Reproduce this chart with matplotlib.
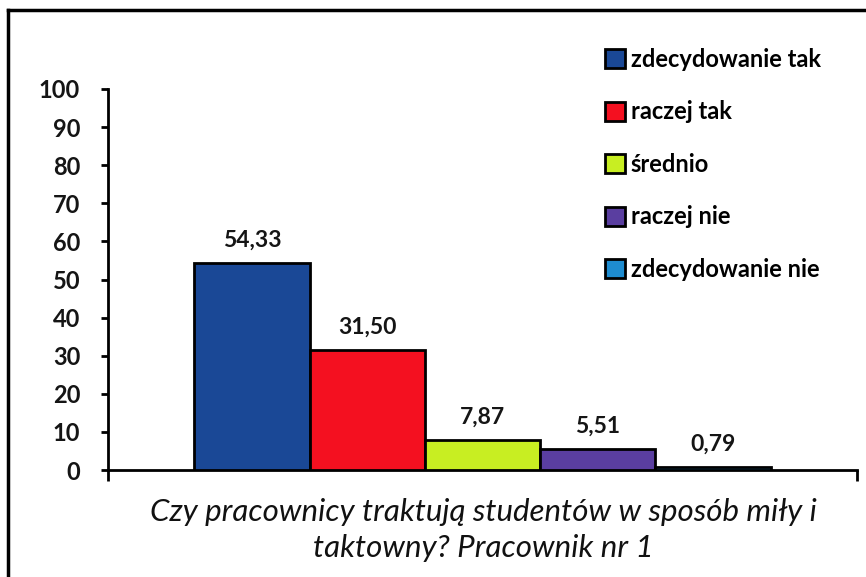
import matplotlib
matplotlib.use("Agg")
import matplotlib.pyplot as plt
from matplotlib.patches import Rectangle
from matplotlib.lines import Line2D

categories = ["zdecydowanie tak", "raczej tak", "średnio", "raczej nie", "zdecydowanie nie"]
values = [54.33, 31.50, 7.87, 5.51, 0.79]
labels = ["54,33", "31,50", "7,87", "5,51", "0,79"]
colors = ["#1A4896", "#F41020", "#C8EE22", "#5A3EA0", "#1E8CD0"]
yticks = [0, 10, 20, 30, 40, 50, 60, 70, 80, 90, 100]
title = "Czy pracownicy traktują studentów w sposób miły i\ntaktowny? Pracownik nr 1"

plt.rcParams['font.family'] = ['Lato', 'DejaVu Sans']

fig = plt.figure(figsize=(8.66, 5.77), dpi=100)
W, H = 866, 577
ax = fig.add_axes([108 / W, 1 - 470 / H, (857 - 108) / W, (470 - 89) / H])

x = list(range(len(values)))
bars = ax.bar(x, values, width=1.0, color=colors, edgecolor="black", linewidth=2, label=categories, zorder=3)
for xi, v, lab in zip(x, values, labels):
    ax.annotate(lab, (xi, v), xytext=(0, 12), textcoords="offset points",
                ha="center", va="baseline", fontsize=16.5, fontweight="bold", color="#151515")

ax.set_xlim(-1.25, 5.25)
ax.set_ylim(0, 100)
ax.set_yticks(yticks)
ax.set_yticklabels([str(t) for t in yticks], fontsize=17, fontweight="bold", color="#151515")
ax.tick_params(axis="y", direction="out", length=5, width=2, pad=15, colors="black")
for t in ax.get_yticklabels():
    t.set_color("#151515")
ax.set_xticks([-1.25, 5.25])
ax.set_xticklabels(["", ""])
ax.tick_params(axis="x", direction="out", length=8, width=2)
for s in ["top", "right"]:
    ax.spines[s].set_visible(False)
for s in ["left", "bottom"]:
    ax.spines[s].set_linewidth(2)

handles = [Rectangle((0, 0), 1, 1, facecolor=c, edgecolor="black", linewidth=2) for c in colors]
leg = fig.legend(handles, categories, loc="upper left", bbox_to_anchor=(586 / W, 1 - 29 / H),
                 frameon=False, prop={"weight": "bold", "size": 17},
                 handlelength=0.85, handleheight=0.85, handletextpad=0.25, labelspacing=1.25,
                 borderpad=0.3)

fig.text(483 / W, 1 - 530 / H, title, ha="center", va="center", fontsize=22.5,
         style="italic", linespacing=1.35, color="#111111")

# outer chart border (top and left visible)
fig.add_artist(Line2D([8 / W, 8 / W], [0, 1 - 10 / H], color="black", linewidth=2.5, transform=fig.transFigure))
fig.add_artist(Line2D([8 / W, 1], [1 - 10 / H, 1 - 10 / H], color="black", linewidth=2.5, transform=fig.transFigure))

fig.savefig("out.png", dpi=100)
